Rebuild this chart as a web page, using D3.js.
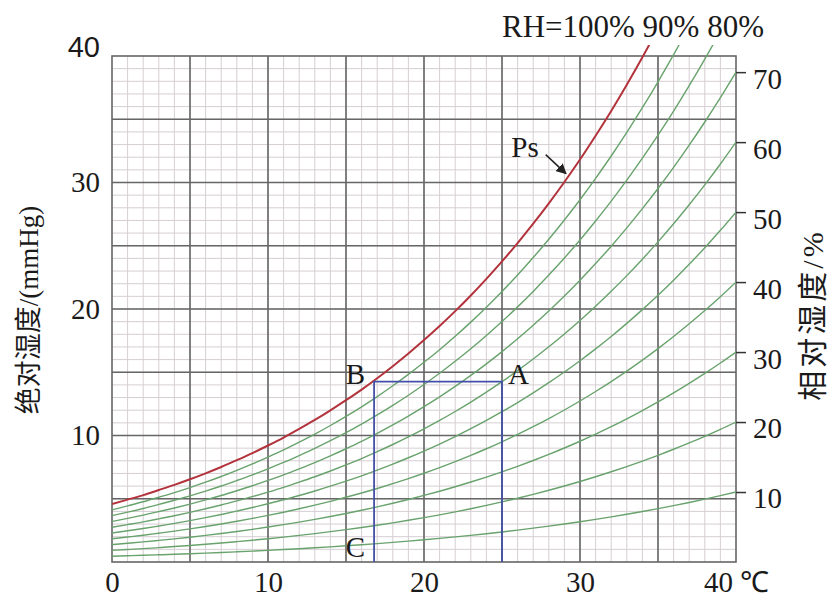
<!DOCTYPE html>
<html>
<head>
<meta charset="utf-8">
<script src="https://cdn.jsdelivr.net/npm/d3@7"></script>
<style>
body{margin:0;background:#fff;}
svg text{font-family:"Liberation Serif","Times New Roman",serif;fill:#1a1a1a;}
</style>
</head>
<body>
<svg id="chart" width="829" height="599"></svg>
<script>
// temperature (°C) and saturation vapour pressure (mmHg)
const tempC = [0,1,2,3,4,5,6,7,8,9,10,11,12,13,14,15,16,17,18,19,20,
  21,22,23,24,25,26,27,28,29,30,31,32,33,34,35,36,37,38,39,40];
const satPs = [4.58,4.93,5.29,5.69,6.10,6.54,7.01,7.51,8.05,8.61,9.21,
  9.84,10.52,11.23,11.99,12.79,13.63,14.53,15.48,16.48,17.54,
  18.65,19.83,21.07,22.38,23.76,25.21,26.74,28.35,30.04,31.82,
  33.70,35.66,37.73,39.90,42.18,44.56,47.07,49.69,52.44,55.32];
const rhLevels = [90,80,70,60,50,40,30,20,10];
const rhTicks = [10,20,30,40,50,60,70];
const absTicks = [10,20,30,40];
const tempTicks = [0,10,20,30,40];
// cooling path A -> B (dew point) -> C
const pathT = [16.8,16.8,25,25];
const pathP = [0,14.26,14.26,0];

const svg = d3.select('#chart');
const x = d3.scaleLinear().domain([0,40]).range([112,736]);
const y = d3.scaleLinear().domain([0,40]).range([562,56]);

const grid = svg.append('g');
// minor grid
grid.selectAll('.vmin').data(d3.range(1,40)).enter().append('line')
  .attr('x1',d=>x(d)).attr('x2',d=>x(d)).attr('y1',y(0)).attr('y2',y(40))
  .attr('stroke','#d6ced3').attr('stroke-width',1);
grid.selectAll('.hmin').data(d3.range(1,40)).enter().append('line')
  .attr('y1',d=>y(d)).attr('y2',d=>y(d)).attr('x1',x(0)).attr('x2',x(40))
  .attr('stroke','#d6ced3').attr('stroke-width',1);
// major grid
grid.selectAll('.vmaj').data(d3.range(5,40,5)).enter().append('line')
  .attr('x1',d=>x(d)).attr('x2',d=>x(d)).attr('y1',y(0)).attr('y2',y(40))
  .attr('stroke','#666').attr('stroke-width',1.6);
grid.selectAll('.hmaj').data(d3.range(5,40,5)).enter().append('line')
  .attr('y1',d=>y(d)).attr('y2',d=>y(d)).attr('x1',x(0)).attr('x2',x(40))
  .attr('stroke','#666').attr('stroke-width',1.6);
grid.append('rect').attr('x',x(0)).attr('y',y(40))
  .attr('width',x(40)-x(0)).attr('height',y(0)-y(40))
  .attr('fill','none').attr('stroke','#666').attr('stroke-width',1.6);

svg.append('clipPath').attr('id','clip').append('rect')
  .attr('x',x(0)).attr('y',45).attr('width',x(40)-x(0)).attr('height',y(0)-45);

const curves = svg.append('g').attr('clip-path','url(#clip)');
const line = d3.line().x(d=>x(d[0])).y(d=>y(d[1])).curve(d3.curveMonotoneX);

rhLevels.forEach(rh=>{
  curves.append('path')
    .attr('d', line(tempC.map((t,i)=>[t, satPs[i]*rh/100])))
    .attr('fill','none').attr('stroke','#68a26c').attr('stroke-width',1.4);
});
curves.append('path')
  .attr('d', line(tempC.map((t,i)=>[t, satPs[i]])))
  .attr('fill','none').attr('stroke','#b3333c').attr('stroke-width',2);

// A-B-C path
svg.append('path')
  .attr('d', d3.line().x(d=>x(d[0])).y(d=>y(d[1]))(pathT.map((t,i)=>[t,pathP[i]])))
  .attr('fill','none').attr('stroke','#4450a8').attr('stroke-width',1.8);

// axes
const fs = 29;
const left = svg.append('g').attr('transform','translate('+x(0)+',0)')
  .call(d3.axisLeft(y).tickValues(absTicks).tickSize(0).tickPadding(12));
left.select('.domain').remove();
left.selectAll('text').attr('font-size',fs)
  .filter(d=>d===40).attr('dy','0.02em')
  .style('font-family','"Liberation Sans",Arial,sans-serif');

const bottom = svg.append('g').attr('transform','translate(0,'+y(0)+')')
  .call(d3.axisBottom(x).tickValues(tempTicks).tickSize(0).tickPadding(9)
    .tickFormat(d=>d===40 ? '40 \u2103' : d));
bottom.select('.domain').remove();
bottom.selectAll('text').attr('font-size',fs);

const right = svg.append('g').attr('transform','translate('+x(40)+',0)')
  .call(d3.axisRight(y).tickValues(rhTicks.map(r=>satPs[40]*r/100))
    .tickSize(10).tickPadding(7).tickFormat((d,i)=>rhTicks[i]));
right.select('.domain').remove();
right.selectAll('line').attr('stroke','#333').attr('stroke-width',1.5);
right.selectAll('text').attr('font-size',fs).attr('dy','0.55em');

// axis titles
svg.append('text').attr('transform','translate(38,310) rotate(-90)')
  .attr('text-anchor','middle').attr('font-size',27)
  .style('font-family','"Liberation Serif","Noto Sans CJK SC",serif')
  .text('绝对湿度/(mmHg)');
svg.append('text').attr('transform','translate(823,315) rotate(-90)')
  .attr('text-anchor','middle').attr('font-size',30).attr('letter-spacing',3)
  .style('font-family','"Liberation Serif","Noto Sans CJK SC",serif')
  .text('相对湿度/%');

// top RH label
svg.append('text').attr('x',x(25)).attr('y',37).attr('font-size',31)
  .text('RH=100% 90% 80%');

// Ps annotation
svg.append('defs').append('marker').attr('id','arr')
  .attr('viewBox','0 0 10 10').attr('refX',9).attr('refY',5)
  .attr('markerWidth',7).attr('markerHeight',7).attr('orient','auto')
  .append('path').attr('d','M0,0L10,5L0,10z').attr('fill','#222');
svg.append('text').attr('x',x(25.6)).attr('y',y(32)).attr('font-size',29).text('Ps');
svg.append('line').attr('x1',x(27.8)).attr('y1',y(32.2))
  .attr('x2',x(29.1)).attr('y2',y(30.7))
  .attr('stroke','#222').attr('stroke-width',1.5).attr('marker-end','url(#arr)');

// point labels
svg.append('text').attr('x',x(pathT[1])-9).attr('y',y(pathP[1])+2)
  .attr('text-anchor','end').attr('font-size',29).text('B');
svg.append('text').attr('x',x(pathT[2])+6).attr('y',y(pathP[2])+2)
  .attr('font-size',29).text('A');
svg.append('text').attr('x',x(pathT[0])-9).attr('y',y(0)-5)
  .attr('text-anchor','end').attr('font-size',29).text('C');
</script>
</body>
</html>
